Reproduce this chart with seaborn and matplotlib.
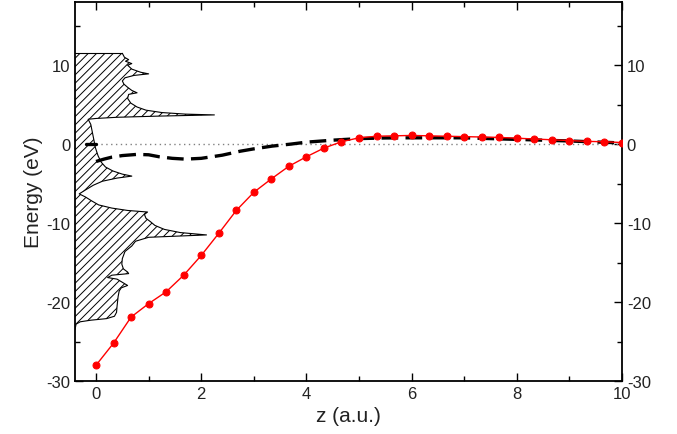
import numpy as np
import pandas as pd
import matplotlib
matplotlib.use("Agg")
import matplotlib.pyplot as plt
import seaborn as sns
from matplotlib.ticker import MultipleLocator

# ---- data ----
z_red = [0, 1/3, 2/3, 1, 4/3, 5/3, 2, 7/3, 8/3, 3, 10/3, 11/3, 4, 13/3, 14/3, 5,
         16/3, 17/3, 6, 19/3, 20/3, 7, 22/3, 23/3, 8, 25/3, 26/3, 9, 28/3, 29/3, 10]
e_red = [-28.0, -25.2, -21.9, -20.2, -18.7, -16.6, -14.1, -11.3, -8.4, -6.1, -4.4,
         -2.8, -1.6, -0.5, 0.3, 0.8, 1.0, 1.05, 1.1, 1.05, 1.0, 0.95, 0.9, 0.85,
         0.75, 0.65, 0.55, 0.45, 0.35, 0.3, 0.2]

z_dash = [0.0, 0.15, 0.3, 0.5, 0.78, 1.0, 1.2, 1.45, 1.7, 2.0, 2.4, 2.74, 3.0,
          3.35, 3.7, 4.0, 4.5, 5.0, 5.5, 6.0, 7.0, 8.0, 9.0, 10.0]
e_dash = [-2.2, -1.9, -1.65, -1.45, -1.3, -1.35, -1.6, -1.8, -1.9, -1.8, -1.4,
          -0.9, -0.6, -0.25, 0.0, 0.25, 0.5, 0.7, 0.78, 0.8, 0.8, 0.6, 0.4, 0.15]

dos_e = [11.5, 11.0, 10.7, 10.5, 10.2, 10.0, 9.5, 9.1, 8.9, 8.7, 8.4, 8.0, 7.6, 7.2,
         6.8, 6.5, 6.3, 5.8, 5.2, 4.7, 4.3, 4.0, 3.8, 3.7, 3.55, 3.4, 3.25, 3.15,
         2.5, 1.5, 0.5, -0.5, -1.5, -2.3, -2.9, -3.4, -3.8, -4.05, -4.3, -4.7,
         -5.2, -5.8, -6.3, -6.7, -7.2, -7.7, -8.1, -8.4, -8.6, -8.9, -9.4, -9.8,
         -10.3, -10.8, -11.2, -11.5, -11.8, -12.3, -12.9, -13.6, -14.5, -15.2,
         -15.8, -16.2, -16.4, -16.6, -16.9, -17.1, -17.5, -17.9, -18.2, -18.6,
         -19.3, -20.5, -21.3, -21.8, -22.1, -22.3, -22.5, -22.8, -23.5]
dos_w = [0.50, 0.54, 0.62, 0.56, 0.68, 0.60, 0.68, 0.85, 1.00, 0.72, 0.55, 0.50,
         0.53, 0.60, 0.68, 0.78, 0.62, 0.60, 0.66, 0.78, 0.95, 1.25, 1.70, 2.25,
         1.20, 0.40, 0.00, -0.15, -0.10, -0.07, -0.04, -0.01, 0.04, 0.10, 0.18,
         0.32, 0.50, 0.68, 0.40, 0.12, -0.05, -0.20, -0.32, -0.20, -0.08, 0.05,
         0.30, 0.60, 0.98, 0.92, 0.95, 1.03, 1.12, 1.30, 1.60, 2.10, 1.00, 0.75,
         0.68, 0.55, 0.50, 0.49, 0.52, 0.60, 0.62, 0.30, 0.22, 0.40, 0.50, 0.60,
         0.48, 0.44, 0.42, 0.40, 0.39, 0.35, 0.20, -0.10, -0.30, -0.38, -0.40]

x_ticks = [0, 2, 4, 6, 8, 10]
y_ticks = [-30, -20, -10, 0, 10]

# ---- style ----
sns.set_style("ticks")
plt.rcParams['font.family'] = ['Liberation Sans', 'DejaVu Sans']
plt.rcParams['hatch.linewidth'] = 0.7
plt.rcParams['axes.unicode_minus'] = False

fig = plt.figure(figsize=(6.77, 4.35), dpi=100)
ax = fig.add_axes([75/677, 1 - 382/435, (622 - 75)/677, (382 - 3)/435])

XMIN, XMAX = -0.4, 10.0
YMIN, YMAX = -30, 18

# DOS hatched region
ax.fill_betweenx(dos_e, XMIN, dos_w, facecolor='white', edgecolor='black',
                 hatch='////', linewidth=0.0, zorder=1)
ax.plot(dos_w, dos_e, color='black', lw=0.8, zorder=2)
ax.plot([XMIN, dos_w[0]], [dos_e[0], dos_e[0]], color='black', lw=0.8, zorder=2)

# zero reference
ax.plot([0, XMAX], [0, 0], color='#808080', lw=1.0, ls=(0, (1, 2.5)), zorder=1.5)

# dashed potential
sns.lineplot(x=z_dash, y=e_dash, ax=ax, color='black', lw=2.4,
             linestyle=(0, (5, 2.2)), sort=False, zorder=3)
ax.plot([-0.2, 0.0], [0, 0], color='black', lw=2.4, zorder=3)

# red line with markers
sns.lineplot(x=z_red, y=e_red, ax=ax, color='red', lw=1.0, marker='o',
             markersize=5, markeredgecolor='red', sort=False, zorder=4)

ax.set_xlim(XMIN, XMAX)
ax.set_ylim(YMIN, YMAX)
ax.set_xticks(x_ticks)
ax.set_yticks(y_ticks)
ax.xaxis.set_minor_locator(MultipleLocator(1))
ax.yaxis.set_minor_locator(MultipleLocator(5))
ax.tick_params(which='both', direction='in', top=True, right=True,
               labelright=True, labelsize=12, colors='black', width=1.0)
ax.tick_params(which='both', labelcolor='#222222')
ax.tick_params(which='major', length=6)
ax.tick_params(which='minor', length=3.5)
for s in ax.spines.values():
    s.set_linewidth(1.3)
    s.set_color('black')

ax.set_xlabel('z (a.u.)', fontsize=15, labelpad=4, color='#222222')
ax.set_ylabel('Energy (eV)', fontsize=15, labelpad=2, color='#222222')

fig.savefig('out.png', dpi=100)
